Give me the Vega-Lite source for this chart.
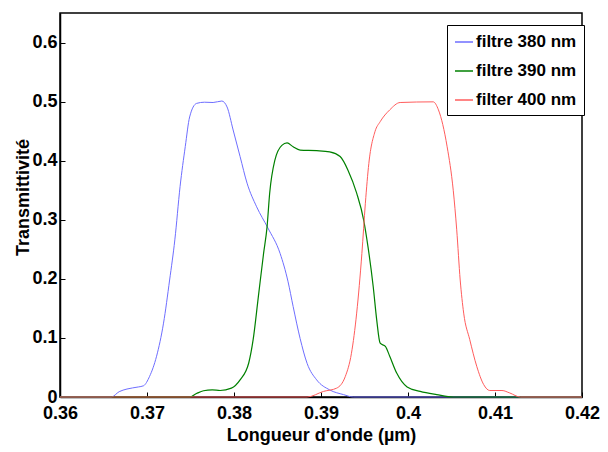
{
  "$schema": "https://vega.github.io/schema/vega-lite/v6.json",
  "width": 522,
  "height": 384,
  "autosize": {"type": "none"},
  "padding": {"left": 60, "top": 13, "right": 26, "bottom": 55},
  "background": "white",
  "config": {
    "font": "Liberation Sans",
    "view": {"stroke": "black", "strokeWidth": 1.5},
    "axis": {
      "grid": false,
      "domainColor": "black",
      "domainWidth": 1.5,
      "tickColor": "black",
      "tickSize": -5,
      "labelFont": "Liberation Sans",
      "labelFontSize": 18,
      "labelFontWeight": "bold",
      "labelColor": "black",
      "titleFont": "Liberation Sans",
      "titleFontSize": 18,
      "titleFontWeight": "bold",
      "titleColor": "black",
      "labelFlush": false,
      "labelOverlap": false
    }
  },
  "data": {
    "values": [
      {"s": "filtre 380 nm", "x": 0.36, "y": 0},
      {"s": "filtre 380 nm", "x": 0.3659, "y": 0},
      {"s": "filtre 380 nm", "x": 0.3668, "y": 0.009},
      {"s": "filtre 380 nm", "x": 0.3677, "y": 0.0135},
      {"s": "filtre 380 nm", "x": 0.369, "y": 0.017},
      {"s": "filtre 380 nm", "x": 0.3696, "y": 0.019},
      {"s": "filtre 380 nm", "x": 0.3703, "y": 0.035},
      {"s": "filtre 380 nm", "x": 0.3711, "y": 0.069},
      {"s": "filtre 380 nm", "x": 0.3719, "y": 0.125},
      {"s": "filtre 380 nm", "x": 0.3726, "y": 0.198},
      {"s": "filtre 380 nm", "x": 0.3732, "y": 0.266},
      {"s": "filtre 380 nm", "x": 0.3738, "y": 0.356},
      {"s": "filtre 380 nm", "x": 0.3744, "y": 0.424},
      {"s": "filtre 380 nm", "x": 0.3749, "y": 0.474},
      {"s": "filtre 380 nm", "x": 0.3757, "y": 0.497},
      {"s": "filtre 380 nm", "x": 0.3766, "y": 0.499},
      {"s": "filtre 380 nm", "x": 0.3776, "y": 0.4985},
      {"s": "filtre 380 nm", "x": 0.3786, "y": 0.501},
      {"s": "filtre 380 nm", "x": 0.3792, "y": 0.491},
      {"s": "filtre 380 nm", "x": 0.3799, "y": 0.452},
      {"s": "filtre 380 nm", "x": 0.3807, "y": 0.407},
      {"s": "filtre 380 nm", "x": 0.3815, "y": 0.362},
      {"s": "filtre 380 nm", "x": 0.3826, "y": 0.322},
      {"s": "filtre 380 nm", "x": 0.3839, "y": 0.286},
      {"s": "filtre 380 nm", "x": 0.3853, "y": 0.243},
      {"s": "filtre 380 nm", "x": 0.3862, "y": 0.196},
      {"s": "filtre 380 nm", "x": 0.3868, "y": 0.153},
      {"s": "filtre 380 nm", "x": 0.3876, "y": 0.099},
      {"s": "filtre 380 nm", "x": 0.3884, "y": 0.057},
      {"s": "filtre 380 nm", "x": 0.3895, "y": 0.029},
      {"s": "filtre 380 nm", "x": 0.391, "y": 0.012},
      {"s": "filtre 380 nm", "x": 0.3926, "y": 0.004},
      {"s": "filtre 380 nm", "x": 0.3937, "y": 0},
      {"s": "filtre 380 nm", "x": 0.42, "y": 0},
      {"s": "filtre 390 nm", "x": 0.36, "y": 0},
      {"s": "filtre 390 nm", "x": 0.3749, "y": 0},
      {"s": "filtre 390 nm", "x": 0.3757, "y": 0.006},
      {"s": "filtre 390 nm", "x": 0.3765, "y": 0.0106},
      {"s": "filtre 390 nm", "x": 0.3775, "y": 0.012},
      {"s": "filtre 390 nm", "x": 0.3784, "y": 0.011},
      {"s": "filtre 390 nm", "x": 0.3797, "y": 0.015},
      {"s": "filtre 390 nm", "x": 0.3807, "y": 0.029},
      {"s": "filtre 390 nm", "x": 0.3817, "y": 0.058},
      {"s": "filtre 390 nm", "x": 0.3822, "y": 0.097},
      {"s": "filtre 390 nm", "x": 0.3828, "y": 0.17},
      {"s": "filtre 390 nm", "x": 0.3834, "y": 0.243},
      {"s": "filtre 390 nm", "x": 0.3838, "y": 0.288},
      {"s": "filtre 390 nm", "x": 0.3841, "y": 0.345},
      {"s": "filtre 390 nm", "x": 0.3847, "y": 0.401},
      {"s": "filtre 390 nm", "x": 0.3855, "y": 0.426},
      {"s": "filtre 390 nm", "x": 0.3861, "y": 0.43},
      {"s": "filtre 390 nm", "x": 0.3868, "y": 0.4235},
      {"s": "filtre 390 nm", "x": 0.3876, "y": 0.418},
      {"s": "filtre 390 nm", "x": 0.3895, "y": 0.417},
      {"s": "filtre 390 nm", "x": 0.391, "y": 0.415},
      {"s": "filtre 390 nm", "x": 0.3922, "y": 0.407},
      {"s": "filtre 390 nm", "x": 0.3931, "y": 0.384},
      {"s": "filtre 390 nm", "x": 0.3941, "y": 0.345},
      {"s": "filtre 390 nm", "x": 0.3949, "y": 0.3},
      {"s": "filtre 390 nm", "x": 0.3954, "y": 0.2545},
      {"s": "filtre 390 nm", "x": 0.396, "y": 0.187},
      {"s": "filtre 390 nm", "x": 0.3964, "y": 0.131},
      {"s": "filtre 390 nm", "x": 0.3968, "y": 0.091},
      {"s": "filtre 390 nm", "x": 0.3974, "y": 0.0855},
      {"s": "filtre 390 nm", "x": 0.3979, "y": 0.069},
      {"s": "filtre 390 nm", "x": 0.3987, "y": 0.0405},
      {"s": "filtre 390 nm", "x": 0.3999, "y": 0.017},
      {"s": "filtre 390 nm", "x": 0.4014, "y": 0.0095},
      {"s": "filtre 390 nm", "x": 0.4033, "y": 0.004},
      {"s": "filtre 390 nm", "x": 0.4052, "y": 0},
      {"s": "filtre 390 nm", "x": 0.42, "y": 0},
      {"s": "filter 400 nm", "x": 0.36, "y": 0},
      {"s": "filter 400 nm", "x": 0.3884, "y": 0},
      {"s": "filter 400 nm", "x": 0.3903, "y": 0.0095},
      {"s": "filter 400 nm", "x": 0.3918, "y": 0.015},
      {"s": "filter 400 nm", "x": 0.3928, "y": 0.035},
      {"s": "filter 400 nm", "x": 0.3935, "y": 0.074},
      {"s": "filter 400 nm", "x": 0.3941, "y": 0.142},
      {"s": "filter 400 nm", "x": 0.3947, "y": 0.243},
      {"s": "filter 400 nm", "x": 0.3951, "y": 0.328},
      {"s": "filter 400 nm", "x": 0.3955, "y": 0.3955},
      {"s": "filter 400 nm", "x": 0.3962, "y": 0.449},
      {"s": "filter 400 nm", "x": 0.3968, "y": 0.466},
      {"s": "filter 400 nm", "x": 0.3979, "y": 0.486},
      {"s": "filter 400 nm", "x": 0.3991, "y": 0.4985},
      {"s": "filter 400 nm", "x": 0.4029, "y": 0.4996},
      {"s": "filter 400 nm", "x": 0.4035, "y": 0.486},
      {"s": "filter 400 nm", "x": 0.4045, "y": 0.4235},
      {"s": "filter 400 nm", "x": 0.4052, "y": 0.35},
      {"s": "filter 400 nm", "x": 0.4056, "y": 0.283},
      {"s": "filter 400 nm", "x": 0.406, "y": 0.198},
      {"s": "filter 400 nm", "x": 0.4064, "y": 0.142},
      {"s": "filter 400 nm", "x": 0.4071, "y": 0.097},
      {"s": "filter 400 nm", "x": 0.4079, "y": 0.052},
      {"s": "filter 400 nm", "x": 0.4087, "y": 0.021},
      {"s": "filter 400 nm", "x": 0.4094, "y": 0.011},
      {"s": "filter 400 nm", "x": 0.4108, "y": 0.011},
      {"s": "filter 400 nm", "x": 0.4117, "y": 0.0068},
      {"s": "filter 400 nm", "x": 0.4129, "y": 0},
      {"s": "filter 400 nm", "x": 0.42, "y": 0}
    ]
  },
  "encoding": {
    "x": {
      "field": "x",
      "type": "quantitative",
      "scale": {"domain": [0.36, 0.42], "nice": false, "zero": false},
      "axis": {
        "title": "Longueur d'onde (µm)",
        "values": [0.36, 0.37, 0.38, 0.39, 0.4, 0.41, 0.42],
        "format": ".2~f",
        "labelPadding": 12,
        "titleY": 38,
        "titleBaseline": "middle"
      }
    },
    "y": {
      "field": "y",
      "type": "quantitative",
      "scale": {"domain": [0, 0.65], "nice": false},
      "axis": {
        "title": "Transmittivité",
        "values": [0, 0.1, 0.2, 0.3, 0.4, 0.5, 0.6],
        "format": ".1~f",
        "labelPadding": 8,
        "titleX": -37,
        "titleY": 184,
        "titleBaseline": "middle"
      }
    },
    "color": {
      "field": "s",
      "type": "nominal",
      "scale": {
        "domain": ["filtre 380 nm", "filtre 390 nm", "filter 400 nm"],
        "range": ["#6e6eff", "#008000", "#ff5c5c"]
      },
      "legend": {
        "orient": "none",
        "legendX": 387,
        "legendY": 12,
        "title": null,
        "strokeColor": "black",
        "fillColor": "white",
        "padding": 7,
        "symbolType": "stroke",
        "symbolSize": 324,
        "symbolStrokeWidth": 1.5,
        "labelFont": "Liberation Sans",
        "labelFontSize": 17,
        "labelFontWeight": "bold",
        "labelColor": "black",
        "labelOffset": 2,
        "rowPadding": 11
      }
    }
  },
  "layer": [
    {
      "transform": [{"filter": "datum.s === 'filtre 380 nm'"}],
      "mark": {"type": "line", "interpolate": "monotone", "strokeWidth": 1}
    },
    {
      "transform": [{"filter": "datum.s === 'filtre 390 nm'"}],
      "mark": {"type": "line", "interpolate": "monotone", "strokeWidth": 1.2}
    },
    {
      "transform": [{"filter": "datum.s === 'filter 400 nm'"}],
      "mark": {"type": "line", "interpolate": "monotone", "strokeWidth": 1}
    }
  ]
}
